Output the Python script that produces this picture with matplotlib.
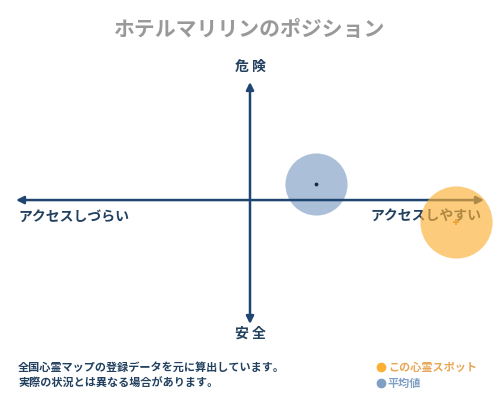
"""Position map for a single spot against the average."""

import matplotlib

matplotlib.use("Agg")

from matplotlib import pyplot as plt  # noqa: E402

plt.rcParams["font.family"] = ["Noto Sans CJK JP", "DejaVu Sans"]

TITLE = "ホテルマリリンのポジション"
AXIS_TOP = "危 険"
AXIS_BOTTOM = "安 全"
AXIS_LEFT = "アクセスしづらい"
AXIS_RIGHT = "アクセスしやすい"
NOTES = [
    "全国心霊マップの登録データを元に算出しています。",
    "実際の状況とは異なる場合があります。",
]

series_names = ["この心霊スポット", "平均値"]
series_x = [0.88, 0.28]
series_y = [-0.19, 0.14]
series_colors = ["#fbb034", "#7f9fc4"]
series_text_colors = ["#e9a657", "#7f9fc4"]
series_sizes = [2700, 2000]

NAVY = "#1f4670"
LABEL_COLOR = "#22405f"

fig = plt.figure(figsize=(5.0, 4.0), dpi=100)
ax = fig.add_axes([0.032, 0.19, 0.936, 0.605])
ax.set_xlim(-1.0, 1.0)
ax.set_ylim(-1.05, 1.0)
ax.axis("off")

arrow = dict(arrowstyle="<|-|>", color=NAVY, lw=1.8, mutation_scale=11,
             shrinkA=0, shrinkB=0)
ax.annotate("", xy=(1.0, 0.0), xytext=(-1.0, 0.0), arrowprops=arrow, zorder=1)
ax.annotate("", xy=(0.0, 1.0), xytext=(0.0, -1.05), arrowprops=arrow, zorder=1)

label_kw = dict(color=LABEL_COLOR, fontsize=10, fontweight="bold",
                va="center", clip_on=False, zorder=2)
ax.text(-0.99, -0.14, AXIS_LEFT, ha="left", **label_kw)
ax.text(0.99, -0.14, AXIS_RIGHT, ha="right", **label_kw)
ax.text(0.0, 1.13, AXIS_TOP, ha="center", **label_kw)
ax.text(0.0, -1.13, AXIS_BOTTOM, ha="center", **label_kw)

# average sits under the arrows, the spot sits on top of them
for name, x, y, color, size in zip(series_names, series_x, series_y,
                                   series_colors, series_sizes):
    z = 3 if name == series_names[0] else 0.5
    ax.scatter([x], [y], s=size, color=color, alpha=0.65, linewidths=0,
               clip_on=False, zorder=z)

ax.scatter([series_x[0]], [series_y[0]], s=14, marker="+", color="#f0a030",
           linewidths=1.2, zorder=4, clip_on=False)
ax.scatter([series_x[1]], [series_y[1]], s=3, color="#1a2a40", zorder=4,
           clip_on=False)

fig.text(0.5, 0.925, TITLE, ha="center", va="center", fontsize=15,
         fontweight="bold", color="#999999")

for i, note in enumerate(NOTES):
    fig.text(0.036, 0.082 - i * 0.04, note, ha="left", va="center",
             fontsize=8, fontweight="bold", color=LABEL_COLOR)

for i, (name, color, text_color) in enumerate(zip(series_names, series_colors,
                                                  series_text_colors)):
    y = 0.082 - i * 0.04
    fig.lines.append(plt.Line2D([0.762], [y], marker="o", markersize=6,
                                color=color, transform=fig.transFigure))
    fig.text(0.776, y, name, ha="left", va="center", fontsize=8,
             fontweight="bold", color=text_color)

fig.savefig("out.png", dpi=100)
plt.close(fig)
